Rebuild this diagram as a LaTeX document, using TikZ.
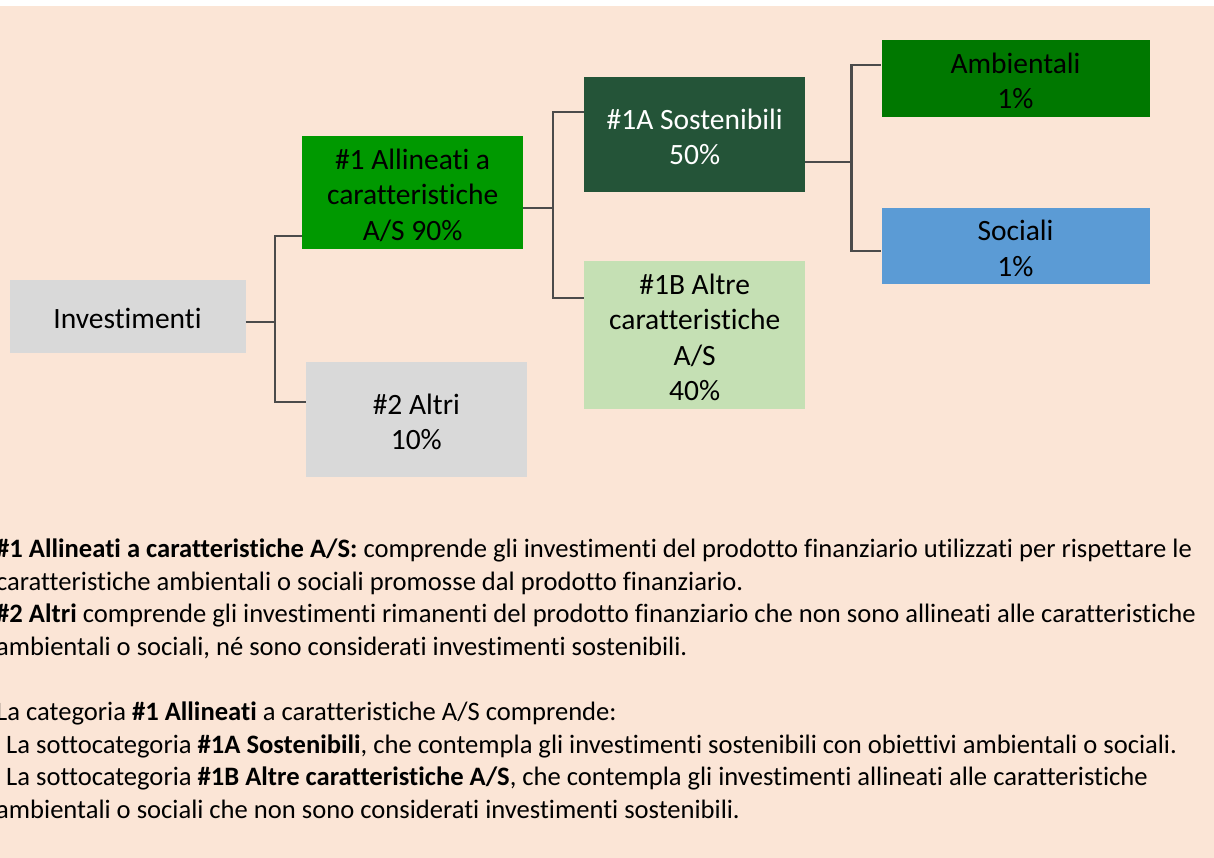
\documentclass[tikz,border=0pt]{standalone}
\usepackage{fontspec}
\setmainfont[Ligatures={NoCommon,NoContextual},RawFeature={-liga;-clig;-dlig}]{Carlito}
\definecolor{bg}{HTML}{FBE5D6}
\definecolor{grayb}{HTML}{D9D9D9}
\definecolor{greenA}{HTML}{009900}
\definecolor{greenD}{HTML}{245438}
\definecolor{greenL}{HTML}{C5E0B4}
\definecolor{greenE}{HTML}{007800}
\definecolor{blueS}{HTML}{5B9BD5}
\definecolor{linec}{HTML}{4B4B4B}
\newcommand{\bxtext}[1]{\raisebox{-5.5pt}[\height][\depth]{\begin{tabular}{@{}c@{}}#1\end{tabular}}}
\begin{document}
\begin{tikzpicture}[x=1pt,y=-1pt,
  box/.style={rectangle, inner sep=0pt, text=black,
    font=\fontsize{29.5}{35.5}\selectfont},
  conn/.style={draw=linec, line width=2.3pt},
  txt/.style={anchor=base west, inner sep=0pt, text=black,
    font=\fontsize{26.6}{32}\selectfont}]
\useasboundingbox (0,0) rectangle (1214,858);
\fill[white] (0,0) rectangle (1214,6);
\fill[bg] (0,6) rectangle (1214,858);

\node[box, fill=grayb, minimum width=236pt, minimum height=72.5pt] (inv) at (127.5,316.3) {\bxtext{Investimenti}};
\node[box, fill=greenA, minimum width=220.7pt, minimum height=112.7pt] (a1) at (412.6,192.3) {\bxtext{\#1 Allineati a\\caratteristiche\\A/S 90\%}};
\node[box, fill=grayb, minimum width=220.6pt, minimum height=115pt] (a2) at (416.3,419.2) {\bxtext{\#2 Altri\\10\%}};
\node[box, fill=greenD, text=white, minimum width=221pt, minimum height=115pt] (s1a) at (694.7,134.5) {\bxtext{\#1A Sostenibili\\50\%}};
\node[box, fill=greenL, minimum width=221pt, minimum height=148.3pt] (s1b) at (694.7,334.9) {\bxtext{\#1B Altre\\caratteristiche\\A/S\\40\%}};
\node[box, fill=greenE, minimum width=268pt, minimum height=77pt] (amb) at (1015.5,78.5) {\bxtext{Ambientali\\1\%}};
\node[box, fill=blueS, minimum width=268pt, minimum height=76.3pt] (soc) at (1015.5,245.9) {\bxtext{Sociali\\1\%}};

\draw[conn] ([yshift=-5.4pt]inv.east) -- ++(29.5,0) coordinate (j1) |- ([yshift=-43.7pt]a1.west);
\draw[conn] (j1) |- ([yshift=17.2pt]a2.west);
\draw[conn] ([yshift=-15.7pt]a1.east) -- ++(30,0) coordinate (j2) |- ([yshift=22.5pt]s1a.west);
\draw[conn] (j2) |- ([yshift=36.9pt]s1b.west);
\draw[conn] ([yshift=-27.5pt]s1a.east) -- ++(46,0) coordinate (j3) |- ([yshift=13.5pt]amb.west);
\draw[conn] (j3) |- ([yshift=-5.1pt]soc.west);

\node[txt] (t1) at (-4,557.5) {\textbf{\#1 Allineati a caratteristiche A/S:} comprende gli investimenti del prodotto finanziario utilizzati per rispettare le};
\node[txt] (t2) at (-4,590.1) {caratteristiche ambientali o sociali promosse dal prodotto finanziario.};
\node[txt] (t3) at (-4,622.7) {\textbf{\#2 Altri} comprende gli investimenti rimanenti del prodotto finanziario che non sono allineati alle caratteristiche};
\node[txt] (t4) at (-4,655.3) {ambientali o sociali, né sono considerati investimenti sostenibili.};
\node[txt] (t5) at (-4,720.5) {La categoria \textbf{\#1 Allineati} a caratteristiche A/S comprende:};
\node[txt] (t6) at (6,753.1) {La sottocategoria \textbf{\#1A Sostenibili}, che contempla gli investimenti sostenibili con obiettivi ambientali o sociali.};
\node[txt] (t7) at (6,785.7) {La sottocategoria \textbf{\#1B Altre caratteristiche A/S}, che contempla gli investimenti allineati alle caratteristiche};
\node[txt] (t8) at (-4,818.3) {ambientali o sociali che non sono considerati investimenti sostenibili.};
\end{tikzpicture}
\end{document}
